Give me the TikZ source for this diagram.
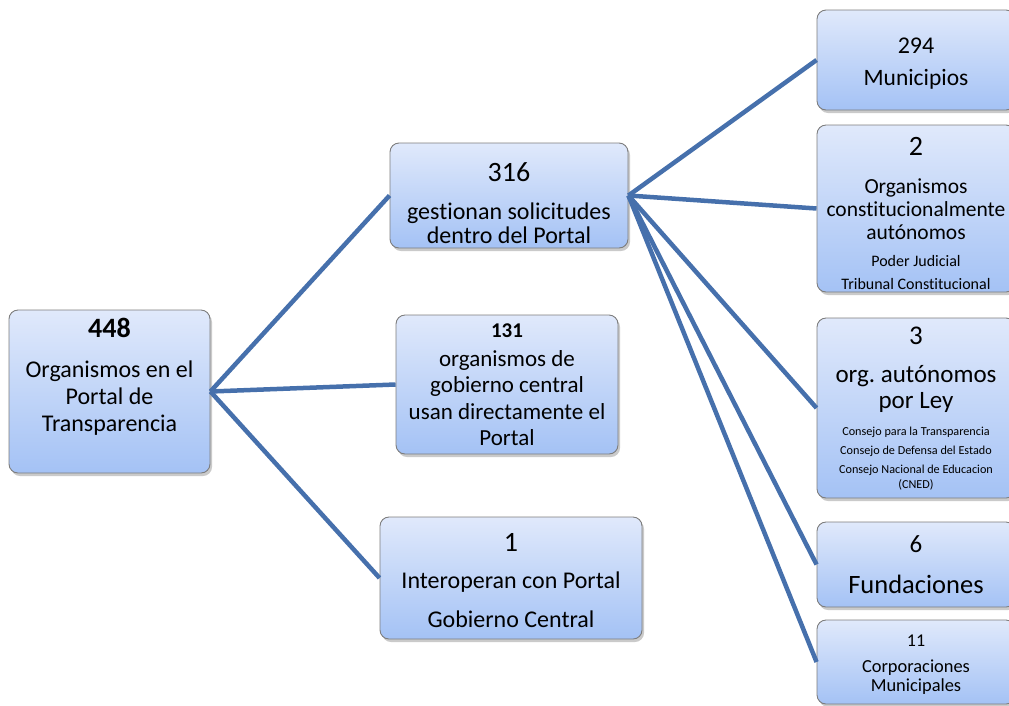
\documentclass[tikz,border=0pt]{standalone}
\usepackage{fontspec}
\setmainfont{Carlito}[Ligatures=NoCommon]
\usetikzlibrary{shadows}
\definecolor{boxtop}{RGB}{224,233,251}
\definecolor{boxbot}{RGB}{164,194,245}
\definecolor{boxline}{RGB}{125,125,125}
\definecolor{conn}{RGB}{70,112,172}
\newcommand{\fs}[2]{\fontsize{#1}{#2}\selectfont}
\frenchspacing
\tikzset{
  box/.style={draw=boxline, line width=0.9pt, rounded corners=9pt, top color=boxtop, bottom color=boxbot,
    drop shadow={shadow xshift=2pt, shadow yshift=-3pt, opacity=0.35, fill=black!60}, inner sep=0pt},
  txt/.style={inner sep=0pt, align=center, text=black},
  link/.style={draw=conn, line width=4.5pt}
}
\begin{document}
\begin{tikzpicture}[x=1pt,y=-1pt]
\useasboundingbox (0,0) rectangle (1009,705);
\clip (0,0) rectangle (1009,705);
% boxes
\node[box, minimum width=201pt, minimum height=163pt] (root) at (109.5,391.5) {};
\node[box, minimum width=238pt, minimum height=105pt] (b316) at (509,195.5) {};
\node[box, minimum width=222pt, minimum height=139pt] (b131) at (507,384.5) {};
\node[box, minimum width=262pt, minimum height=122pt] (b1) at (511,578) {};
\node[box, minimum width=198pt, minimum height=100pt] (b294) at (916,60) {};
\node[box, minimum width=198pt, minimum height=167pt] (b2) at (916,208.5) {};
\node[box, minimum width=198pt, minimum height=180pt] (b3) at (916,408) {};
\node[box, minimum width=198pt, minimum height=85pt] (b6) at (916,564.5) {};
\node[box, minimum width=198pt, minimum height=84pt] (b11) at (916,662) {};
% connectors
\draw[link] (root.east) -- (b316.west);
\draw[link] (root.east) -- (b131.west);
\draw[link] (root.east) -- (b1.west);
\draw[link] (b316.east) -- (b294.west);
\draw[link] (b316.east) -- (b2.west);
\draw[link] (b316.east) -- (b3.west);
\draw[link] (b316.east) -- (b6.west);
\draw[link] (b316.east) -- (b11.west);
% texts
\node[txt, font=\fs{28}{30}\bfseries] (r1) at (109.5,328) {448};
\node[txt, font=\fs{24}{27}] (r2) at (109.5,398) {Organismos en el\\Portal de\\Transparencia};
\node[txt, font=\fs{28}{30}] (a1) at (509,172) {316};
\node[txt, font=\fs{24}{24}] (a2) at (509,223) {gestionan solicitudes\\dentro del Portal};
\node[txt, font=\fs{21}{22}\bfseries] (c1) at (507,331) {131};
\node[txt, font=\fs{23}{26.5}] (c2) at (507,398) {organismos de\\gobierno central\\usan directamente el\\Portal};
\node[txt, font=\fs{28}{30}] (d1) at (511,542) {1};
\node[txt, font=\fs{24}{26}] (d2) at (511,582) {Interoperan con Portal};
\node[txt, font=\fs{24}{26}] (d3) at (511,619) {Gobierno Central};
\node[txt, font=\fs{24}{26}] (e1) at (916,46) {294};
\node[txt, font=\fs{23.5}{26}] (e2) at (916,79) {Municipios};
\node[txt, font=\fs{28}{30}] (f1) at (916,146) {2};
\node[txt, font=\fs{21.5}{23}] (f2) at (916,209) {Organismos\\constitucionalmente\\autónomos};
\node[txt, font=\fs{16}{18}] (f3) at (916,261) {Poder Judicial};
\node[txt, font=\fs{16}{18}] (f4) at (916,284) {Tribunal Constitucional};
\node[txt, font=\fs{27}{29}] (g1) at (916,336) {3};
\node[txt, font=\fs{25}{26.5}] (g2) at (916,389) {org. autónomos\\por Ley};
\node[txt, font=\fs{12.2}{19}] (g3) at (916,459) {Consejo para la Transparencia\\Consejo de Defensa del Estado\\Consejo Nacional de Educacion\\[-4pt](CNED)};
\node[txt, font=\fs{25}{27}] (h1) at (916,544) {6};
\node[txt, font=\fs{26.5}{28}] (h2) at (916,584) {Fundaciones};
\node[txt, font=\fs{18}{20}] (i1) at (916,641) {11};
\node[txt, font=\fs{18.4}{19.5}] (i2) at (916,677) {Corporaciones\\Municipales};
\end{tikzpicture}
\end{document}
